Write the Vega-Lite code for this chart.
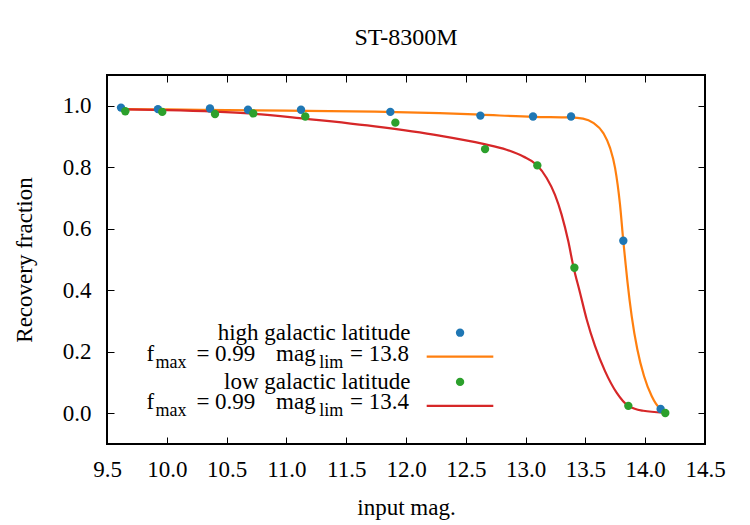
{
  "$schema": "https://vega.github.io/schema/vega-lite/v6.json",
  "width": 598,
  "height": 369,
  "autosize": "none",
  "padding": {"left": 107, "top": 75, "right": 45, "bottom": 81},
  "background": "white",
  "title": {"text": "ST-8300M", "font": "Times New Roman, Liberation Serif, serif", "fontSize": 24, "fontWeight": "normal", "offset": 25, "color": "black"},
  "datasets": {
    "high_obs": [
      {"mag": 9.617, "frac": 0.994}, {"mag": 9.926, "frac": 0.989}, {"mag": 10.361, "frac": 0.991},
      {"mag": 10.679, "frac": 0.987}, {"mag": 11.122, "frac": 0.987}, {"mag": 11.869, "frac": 0.98},
      {"mag": 12.622, "frac": 0.968}, {"mag": 13.062, "frac": 0.965}, {"mag": 13.38, "frac": 0.965},
      {"mag": 13.817, "frac": 0.561}, {"mag": 14.129, "frac": 0.014}
    ],
    "low_obs": [
      {"mag": 9.653, "frac": 0.982}, {"mag": 9.962, "frac": 0.98}, {"mag": 10.403, "frac": 0.973},
      {"mag": 10.723, "frac": 0.975}, {"mag": 11.158, "frac": 0.965}, {"mag": 11.911, "frac": 0.945},
      {"mag": 12.661, "frac": 0.859}, {"mag": 13.098, "frac": 0.806}, {"mag": 13.408, "frac": 0.473},
      {"mag": 13.859, "frac": 0.024}, {"mag": 14.168, "frac": 0.001}
    ],
    "high_fit": [
      {"mag": 9.65, "frac": 0.989}, {"mag": 10.0, "frac": 0.988}, {"mag": 10.5, "frac": 0.986},
      {"mag": 11.0, "frac": 0.984}, {"mag": 11.74, "frac": 0.981}, {"mag": 12.28, "frac": 0.976},
      {"mag": 12.62, "frac": 0.971}, {"mag": 13.065, "frac": 0.964}, {"mag": 13.37, "frac": 0.962},
      {"mag": 13.48, "frac": 0.958}, {"mag": 13.566, "frac": 0.944}, {"mag": 13.65, "frac": 0.911},
      {"mag": 13.706, "frac": 0.863}, {"mag": 13.748, "frac": 0.798}, {"mag": 13.789, "frac": 0.68},
      {"mag": 13.817, "frac": 0.56}, {"mag": 13.835, "frac": 0.49}, {"mag": 13.851, "frac": 0.43},
      {"mag": 13.887, "frac": 0.316}, {"mag": 13.934, "frac": 0.208}, {"mag": 13.99, "frac": 0.121},
      {"mag": 14.054, "frac": 0.056}, {"mag": 14.124, "frac": 0.015}, {"mag": 14.152, "frac": 0.008}
    ],
    "low_fit": [
      {"mag": 9.65, "frac": 0.988}, {"mag": 10.0, "frac": 0.986}, {"mag": 10.4, "frac": 0.981},
      {"mag": 10.72, "frac": 0.974}, {"mag": 11.11, "frac": 0.96}, {"mag": 11.74, "frac": 0.933},
      {"mag": 12.28, "frac": 0.903}, {"mag": 12.646, "frac": 0.876}, {"mag": 12.841, "frac": 0.857},
      {"mag": 12.981, "frac": 0.835}, {"mag": 13.092, "frac": 0.808}, {"mag": 13.176, "frac": 0.765},
      {"mag": 13.245, "frac": 0.711}, {"mag": 13.301, "frac": 0.646}, {"mag": 13.357, "frac": 0.559},
      {"mag": 13.398, "frac": 0.48}, {"mag": 13.455, "frac": 0.392}, {"mag": 13.511, "frac": 0.305},
      {"mag": 13.58, "frac": 0.219}, {"mag": 13.664, "frac": 0.137}, {"mag": 13.761, "frac": 0.067},
      {"mag": 13.858, "frac": 0.024}, {"mag": 13.984, "frac": 0.008}, {"mag": 14.151, "frac": 0.002}
    ]
  },
  "layer": [
    {
      "data": {"name": "high_fit"},
      "mark": {"type": "line", "color": "#ff7f0e", "strokeWidth": 2.2, "interpolate": "monotone"},
      "encoding": {
        "x": {"field": "mag", "type": "quantitative", "scale": {"domain": [9.5, 14.5], "nice": false, "zero": false},
              "axis": {"orient": "bottom", "title": "input mag.", "values": [9.5, 10, 10.5, 11, 11.5, 12, 12.5, 13, 13.5, 14, 14.5], "format": ".1f", "tickSize": -7, "labelPadding": 21, "titlePadding": 15}},
        "y": {"field": "frac", "type": "quantitative", "scale": {"domain": [-0.1, 1.1], "nice": false, "zero": false},
              "axis": {"orient": "left", "title": "Recovery fraction", "values": [0, 0.2, 0.4, 0.6, 0.8, 1.0], "format": ".1f", "tickSize": -7, "labelPadding": 23, "titlePadding": 26}}
      }
    },
    {
      "data": {"name": "low_fit"},
      "mark": {"type": "line", "color": "#d62728", "strokeWidth": 2.2, "interpolate": "monotone"},
      "encoding": {
        "x": {"field": "mag", "type": "quantitative", "axis": null},
        "y": {"field": "frac", "type": "quantitative", "axis": null}
      }
    },
    {
      "data": {"name": "high_obs"},
      "mark": {"type": "circle", "color": "#1f77b4", "size": 70, "opacity": 1},
      "encoding": {
        "x": {"field": "mag", "type": "quantitative",
              "axis": {"orient": "top", "title": null, "labels": false, "values": [10, 10.5, 11, 11.5, 12, 12.5, 13, 13.5, 14], "tickSize": -7}},
        "y": {"field": "frac", "type": "quantitative",
              "axis": {"orient": "right", "title": null, "labels": false, "values": [0, 0.2, 0.4, 0.6, 0.8, 1.0], "tickSize": -7}}
      }
    },
    {
      "data": {"name": "low_obs"},
      "mark": {"type": "circle", "color": "#2ca02c", "size": 70, "opacity": 1},
      "encoding": {
        "x": {"field": "mag", "type": "quantitative", "axis": null},
        "y": {"field": "frac", "type": "quantitative", "axis": null}
      }
    },
    {
      "data": {"values": [{}]},
      "mark": {"type": "text", "align": "right", "baseline": "alphabetic", "font": "Times New Roman, Liberation Serif, serif", "fontSize": 23},
      "encoding": {"x": {"datum": 12.038, "axis": null}, "y": {"datum": 0.237, "axis": null}, "text": {"value": "high galactic latitude"}}
    },
    {
      "data": {"values": [{}]},
      "mark": {"type": "text", "align": "center", "baseline": "alphabetic", "font": "Times New Roman, Liberation Serif, serif", "fontSize": 23},
      "encoding": {"x": {"datum": 9.862, "axis": null}, "y": {"datum": 0.17, "axis": null}, "text": {"value": "f"}}
    },
    {
      "data": {"values": [{}]},
      "mark": {"type": "text", "align": "center", "baseline": "alphabetic", "font": "Times New Roman, Liberation Serif, serif", "fontSize": 18},
      "encoding": {"x": {"datum": 10.036, "axis": null}, "y": {"datum": 0.146, "axis": null}, "text": {"value": "max"}}
    },
    {
      "data": {"values": [{}]},
      "mark": {"type": "text", "align": "center", "baseline": "alphabetic", "font": "Times New Roman, Liberation Serif, serif", "fontSize": 23},
      "encoding": {"x": {"datum": 10.494, "axis": null}, "y": {"datum": 0.17, "axis": null}, "text": {"value": "= 0.99"}}
    },
    {
      "data": {"values": [{}]},
      "mark": {"type": "text", "align": "center", "baseline": "alphabetic", "font": "Times New Roman, Liberation Serif, serif", "fontSize": 23},
      "encoding": {"x": {"datum": 11.079, "axis": null}, "y": {"datum": 0.17, "axis": null}, "text": {"value": "mag"}}
    },
    {
      "data": {"values": [{}]},
      "mark": {"type": "text", "align": "center", "baseline": "alphabetic", "font": "Times New Roman, Liberation Serif, serif", "fontSize": 18},
      "encoding": {"x": {"datum": 11.375, "axis": null}, "y": {"datum": 0.146, "axis": null}, "text": {"value": "lim"}}
    },
    {
      "data": {"values": [{}]},
      "mark": {"type": "text", "align": "center", "baseline": "alphabetic", "font": "Times New Roman, Liberation Serif, serif", "fontSize": 23},
      "encoding": {"x": {"datum": 11.778, "axis": null}, "y": {"datum": 0.17, "axis": null}, "text": {"value": "= 13.8"}}
    },
    {
      "data": {"values": [{}]},
      "mark": {"type": "text", "align": "right", "baseline": "alphabetic", "font": "Times New Roman, Liberation Serif, serif", "fontSize": 23},
      "encoding": {"x": {"datum": 12.038, "axis": null}, "y": {"datum": 0.08, "axis": null}, "text": {"value": "low galactic latitude"}}
    },
    {
      "data": {"values": [{}]},
      "mark": {"type": "text", "align": "center", "baseline": "alphabetic", "font": "Times New Roman, Liberation Serif, serif", "fontSize": 23},
      "encoding": {"x": {"datum": 9.862, "axis": null}, "y": {"datum": 0.013, "axis": null}, "text": {"value": "f"}}
    },
    {
      "data": {"values": [{}]},
      "mark": {"type": "text", "align": "center", "baseline": "alphabetic", "font": "Times New Roman, Liberation Serif, serif", "fontSize": 18},
      "encoding": {"x": {"datum": 10.036, "axis": null}, "y": {"datum": -0.009, "axis": null}, "text": {"value": "max"}}
    },
    {
      "data": {"values": [{}]},
      "mark": {"type": "text", "align": "center", "baseline": "alphabetic", "font": "Times New Roman, Liberation Serif, serif", "fontSize": 23},
      "encoding": {"x": {"datum": 10.494, "axis": null}, "y": {"datum": 0.013, "axis": null}, "text": {"value": "= 0.99"}}
    },
    {
      "data": {"values": [{}]},
      "mark": {"type": "text", "align": "center", "baseline": "alphabetic", "font": "Times New Roman, Liberation Serif, serif", "fontSize": 23},
      "encoding": {"x": {"datum": 11.079, "axis": null}, "y": {"datum": 0.013, "axis": null}, "text": {"value": "mag"}}
    },
    {
      "data": {"values": [{}]},
      "mark": {"type": "text", "align": "center", "baseline": "alphabetic", "font": "Times New Roman, Liberation Serif, serif", "fontSize": 18},
      "encoding": {"x": {"datum": 11.375, "axis": null}, "y": {"datum": -0.009, "axis": null}, "text": {"value": "lim"}}
    },
    {
      "data": {"values": [{}]},
      "mark": {"type": "text", "align": "center", "baseline": "alphabetic", "font": "Times New Roman, Liberation Serif, serif", "fontSize": 23},
      "encoding": {"x": {"datum": 11.778, "axis": null}, "y": {"datum": 0.013, "axis": null}, "text": {"value": "= 13.4"}}
    },
    {
      "data": {"values": [{}]},
      "mark": {"type": "circle", "color": "#1f77b4", "size": 70, "opacity": 1},
      "encoding": {"x": {"datum": 12.452, "axis": null}, "y": {"datum": 0.262, "axis": null}}
    },
    {
      "data": {"values": [{}]},
      "mark": {"type": "rule", "color": "#ff7f0e", "strokeWidth": 2.2},
      "encoding": {"x": {"datum": 12.173, "axis": null}, "x2": {"datum": 12.73}, "y": {"datum": 0.184, "axis": null}}
    },
    {
      "data": {"values": [{}]},
      "mark": {"type": "circle", "color": "#2ca02c", "size": 70, "opacity": 1},
      "encoding": {"x": {"datum": 12.452, "axis": null}, "y": {"datum": 0.102, "axis": null}}
    },
    {
      "data": {"values": [{}]},
      "mark": {"type": "rule", "color": "#d62728", "strokeWidth": 2.2},
      "encoding": {"x": {"datum": 12.173, "axis": null}, "x2": {"datum": 12.73}, "y": {"datum": 0.024, "axis": null}}
    }
  ],
  "resolve": {"axis": {"x": "independent", "y": "independent"}},
  "config": {
    "view": {"stroke": "black", "strokeWidth": 2},
    "axis": {
      "domain": false, "grid": false, "tickColor": "black", "tickWidth": 1,
      "labelFont": "Times New Roman, Liberation Serif, serif", "labelFontSize": 23, "labelColor": "black",
      "titleFont": "Times New Roman, Liberation Serif, serif", "titleFontSize": 23, "titleFontWeight": "normal", "titleColor": "black",
      "labelFlush": false, "labelOverlap": false
    }
  }
}
